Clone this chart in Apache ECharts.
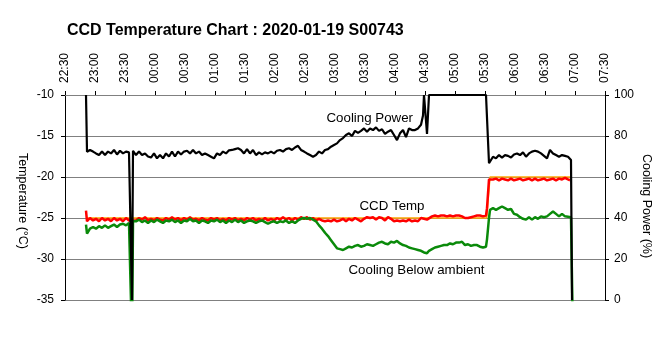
<!DOCTYPE html>
<html>
<head>
<meta charset="utf-8">
<script src="https://cdn.jsdelivr.net/npm/echarts@6/dist/echarts.min.js"></script>
<style>
  html, body { margin: 0; padding: 0; background: #fff; }
  #chart { width: 670px; height: 340px; }
</style>
</head>
<body>
<div id="chart"></div>
<script>
// Sample times in minutes after 22:30 (2020-01-18 22:30 -> 2020-01-19 07:30)
const minutes = [
  21, 22, 25, 28, 31, 34, 37, 40, 43, 46, 49, 52, 55, 58, 61, 64, 66, 67, 68,
  71, 74, 77, 80, 83, 86, 89, 92, 95, 98,
  101, 104, 107, 110, 113, 116, 119, 122, 125, 128,
  131, 134, 137, 140, 143, 146, 149, 152, 155, 158,
  161, 164, 167, 170, 173, 176, 179, 182, 185, 188,
  191, 194, 197, 200, 203, 206, 209, 212, 215, 218,
  221, 224, 227, 230, 233, 236, 239, 242, 245, 248,
  251, 254, 257, 260, 263, 266, 269, 272, 275, 278,
  281, 284, 287, 290, 293, 296, 299, 302, 305, 308,
  311, 314, 317, 320, 323, 326, 329, 332, 335, 338,
  341, 344, 347, 350, 353, 356,
  358, 359, 360, 362, 364,
  367, 370, 373, 376, 379, 382, 385, 388, 391, 394, 397, 400, 403, 406, 409, 412, 415, 418, 421,
  422, 424, 425,
  428, 431, 434, 437, 440, 443, 446, 449, 452, 455, 458, 461, 464,
  467, 470, 473, 476, 479, 482, 485, 488, 491, 494, 497, 500, 503,
  505, 506, 507, 508
];

// Cooling power, % (right axis)
const coolingPower = [
  100, 72.3, 73.2, 72.4, 71.5, 70.7, 72.4, 70.7, 72.4, 71.5, 73.2, 71.0, 72.8, 71.5, 72.4, 72.0, 72.4, 0, 72.8,
  70.7, 72.4, 70.7, 71.5, 70.0, 69.5, 71.5, 69.1, 70.7, 69.1,
  71.5, 70.0, 72.4, 70.0, 72.4, 71.0, 72.4, 72.8, 71.5, 73.2,
  71.5, 72.4, 70.7, 71.5, 70.7, 69.9, 69.1, 71.5, 70.7, 72.4,
  71.5, 73.0, 73.2, 73.6, 74.0, 73.2, 71.5, 73.6, 71.5, 73.2,
  70.7, 72.0, 71.0, 72.0, 71.5, 72.4, 71.5, 72.8, 73.2, 72.4,
  73.6, 74.0, 73.2, 74.4, 75.2, 73.2, 72.4, 71.5, 70.7, 69.9,
  70.7, 72.4, 71.5, 73.2, 73.6, 74.8, 75.6, 76.4, 78.0, 79.0,
  80.5, 81.3, 80.0, 82.5, 81.5, 82.5, 83.7, 82.1, 83.7, 82.9,
  84.2, 82.5, 83.3, 81.0, 82.1, 82.9, 80.5, 78.0, 81.3, 82.9,
  79.5, 83.7, 82.9, 82.9, 83.7, 85.5,
  90, 100, 100, 81, 100,
  100, 100, 100, 100, 100, 100, 100, 100, 100, 100, 100, 100, 100, 100, 100, 100, 100, 100, 100,
  100, 66.7, 67.5,
  69.9, 69.1, 70.7, 69.5, 70.7, 70.3, 69.5, 71.0, 71.5, 70.7, 72.0, 69.9, 71.5,
  72.4, 72.8, 72.4, 71.5, 70.3, 69.1, 73.2, 71.5, 70.7, 69.9, 70.7, 70.3, 69.9,
  69.1, 68.3, 0, null
];

// CCD temperature, °C
const ccdTemp = [
  -24.1, -25.4, -25.0, -25.3, -25.1, -25.4, -25.0, -25.3, -25.1, -25.4, -25.0, -25.3, -25.1, -25.4, -25.0, -25.3, -25.2, -25.3, -25.1,
  -25.3, -25.0, -25.2, -24.9, -25.3, -25.1, -25.3, -25.0, -25.2, -25.3,
  -25.0, -25.2, -24.9, -25.2, -25.0, -25.3, -25.0, -25.2, -24.9, -25.2,
  -25.1, -25.3, -25.0, -25.2, -25.3, -25.0, -25.2, -25.0, -25.3, -25.1,
  -25.3, -25.0, -25.2, -25.0, -25.3, -25.1, -25.3, -25.0, -25.2, -25.0,
  -25.3, -25.1, -25.3, -25.0, -25.3, -25.1, -25.3, -25.0, -25.2, -24.9,
  -25.2, -25.0, -25.3, -25.0, -25.2, -24.9, -25.1, -24.9, -25.2, -25.0,
  -25.3, -25.1, -25.3, -25.4, -25.3, -25.4, -25.2, -25.4, -25.3, -25.1,
  -25.4, -25.1, -25.3, -25.0, -25.2, -25.4, -25.1, -24.9, -25.0, -24.9,
  -25.2, -24.9, -25.0, -25.3, -24.9, -25.1, -25.4, -25.3, -25.4, -25.3,
  -25.4, -25.2, -25.4, -25.3, -25.4, -25.0,
  -25.0, -25.1, -25.1, -25.2, -25.0,
  -24.8, -24.7, -24.8, -24.7, -24.7, -24.8, -24.7, -24.8, -24.7, -24.7, -24.8, -25.0, -25.0, -24.9, -24.8, -24.7, -24.7, -24.8, -24.7,
  -23.8, -20.3, -20.2,
  -20.3, -20.2, -20.4, -20.2, -20.3, -20.4, -20.2, -20.4, -20.3, -20.2, -20.4, -20.3, -20.2,
  -20.4, -20.2, -20.4, -20.3, -20.2, -20.4, -20.3, -20.2, -20.4, -20.2, -20.3, -20.1, -20.3,
  -20.4, null, null, null
];

// Cooling below ambient, °C
const belowAmbient = [
  -25.8, -26.9, -26.3, -26.1, -26.3, -26.0, -26.2, -25.9, -26.2, -26.0, -25.8, -26.1, -25.8, -25.7, -25.9, -25.6, -25.8, -40, -25.4,
  -25.4, -25.2, -25.5, -25.3, -25.6, -25.3, -25.5, -25.2, -25.4, -25.6,
  -25.3, -25.4, -25.2, -25.5, -25.3, -25.6, -25.3, -25.4, -25.1, -25.4,
  -25.3, -25.6, -25.3, -25.4, -25.6, -25.3, -25.4, -25.2, -25.5, -25.3,
  -25.6, -25.3, -25.5, -25.2, -25.5, -25.3, -25.6, -25.4, -25.3, -25.4,
  -25.6, -25.4, -25.3, -25.5, -25.7, -25.5, -25.4, -25.6, -25.4, -25.5,
  -25.3, -25.6, -25.4, -25.6, -25.3, -25.1, -25.0, -25.1, -25.0, -25.2,
  -25.4, -25.9, -26.3, -26.8, -27.2, -27.7, -28.2, -28.7, -28.8, -28.9,
  -28.7, -28.5, -28.6, -28.4, -28.3, -28.5, -28.4, -28.2, -28.3, -28.4,
  -28.2, -28.0, -27.9, -28.1, -28.2, -27.9, -28.0, -27.8, -28.1, -28.3,
  -28.4, -28.6, -28.7, -28.8, -28.9, -29.0,
  -29.1, -29.2, -29.3, -29.3, -29.0,
  -28.8, -28.6, -28.5, -28.4, -28.3, -28.3, -28.1, -28.2, -28.0, -28.0, -27.9, -28.3, -28.2, -28.4, -28.3, -28.3, -28.5, -28.6, -28.5,
  -27.6, -25.0, -24.0,
  -23.8, -24.0, -23.8, -23.6, -23.8, -24.0, -23.9, -24.5, -24.6, -24.9, -25.1, -25.2, -24.9,
  -25.2, -24.9, -25.1, -24.8, -24.9, -24.8, -24.5, -24.2, -24.5, -24.8, -24.5, -24.8, -24.85,
  -24.9, -24.9, -25.0, -40
];

// Set point, °C (step change at 05:30)
const setPointMinutes = [21, 421.7, 425, 505];
const setPointTemp = [-25, -25, -20, -20];

// Top axis tick labels, one per 30 minutes
const tickLabels = [
  '22:30', '23:00', '23:30', '00:00', '00:30', '01:00', '01:30', '02:00', '02:30', '03:00',
  '03:30', '04:00', '04:30', '05:00', '05:30', '06:00', '06:30', '07:00', '07:30'
];

const FONT = "'Liberation Sans', Arial, sans-serif";
const pair = (xs, vals) => xs.map((m, i) => [m, vals[i] == null ? '-' : vals[i]]);

const chart = echarts.init(document.getElementById('chart'), null, { renderer: 'canvas' });

const labelStyle = { fontFamily: FONT, fontSize: 12, color: '#000' };

chart.setOption({
  animation: false,
  backgroundColor: '#fff',
  title: {
    text: 'CCD Temperature Chart : 2020-01-19 S00743',
    left: 67, top: 23, padding: 0,
    textStyle: { fontFamily: FONT, fontSize: 16, fontWeight: 'bold', color: '#000' }
  },
  grid: { left: 65, right: 65, top: 95, bottom: 40 },
  xAxis: {
    type: 'value', position: 'top',
    min: 0, max: 540, interval: 30,
    axisLine: { show: true, onZero: false, lineStyle: { color: '#808080', width: 1 } },
    axisTick: { show: true, length: 4, lineStyle: { color: '#000' } },
    axisLabel: Object.assign({
      rotate: -90, margin: 12,
      formatter: v => tickLabels[Math.round(v / 30)]
    }, labelStyle),
    splitLine: { show: false }
  },
  yAxis: [
    {
      type: 'value', position: 'left',
      min: -35, max: -10, interval: 5,
      axisLine: { show: true, onZero: false, lineStyle: { color: '#000', width: 1 } },
      axisTick: { show: true, length: 4, lineStyle: { color: '#000' } },
      axisLabel: Object.assign({ margin: 11 }, labelStyle),
      splitLine: { show: true, lineStyle: { color: '#808080', width: 1 } }
    },
    {
      type: 'value', position: 'right',
      min: 0, max: 100, interval: 20,
      axisLine: { show: true, onZero: false, lineStyle: { color: '#000', width: 1 } },
      axisTick: { show: true, length: 4, lineStyle: { color: '#000' } },
      axisLabel: Object.assign({ margin: 9 }, labelStyle),
      splitLine: { show: false }
    }
  ],
  graphic: [
    {
      type: 'text', x: 22, y: 201, rotation: -Math.PI / 2,
      style: { text: 'Temperature (°C)', fontFamily: FONT, fontSize: 12.5, fill: '#000', align: 'center', verticalAlign: 'middle' }
    },
    {
      type: 'text', x: 646.5, y: 206, rotation: -Math.PI / 2,
      style: { text: 'Cooling Power (%)', fontFamily: FONT, fontSize: 12.5, fill: '#000', align: 'center', verticalAlign: 'middle' }
    },
    {
      type: 'text', x: 326.5, y: 118,
      style: { text: 'Cooling Power', fontFamily: FONT, fontSize: 13.3, fill: '#000', align: 'left', verticalAlign: 'middle' }
    },
    {
      type: 'text', x: 359.5, y: 206.5,
      style: { text: 'CCD Temp', fontFamily: FONT, fontSize: 13.3, fill: '#000', align: 'left', verticalAlign: 'middle' }
    },
    {
      type: 'text', x: 348.5, y: 270,
      style: { text: 'Cooling Below ambient', fontFamily: FONT, fontSize: 13.3, fill: '#000', align: 'left', verticalAlign: 'middle' }
    }
  ],
  series: [
    {
      name: 'Set Point', type: 'line', yAxisIndex: 0,
      data: pair(setPointMinutes, setPointTemp),
      showSymbol: false, clip: true,
      lineStyle: { color: '#ffa500', width: 1.5 }
    },
    {
      name: 'CCD Temp', type: 'line', yAxisIndex: 0,
      data: pair(minutes, ccdTemp),
      showSymbol: false, clip: true,
      lineStyle: { color: '#ff0000', width: 2.5 }
    },
    {
      name: 'Cooling Below ambient', type: 'line', yAxisIndex: 0,
      data: pair(minutes, belowAmbient),
      showSymbol: false, clip: true,
      lineStyle: { color: '#0a8a0a', width: 2.5 }
    },
    {
      name: 'Cooling Power', type: 'line', yAxisIndex: 1,
      data: pair(minutes, coolingPower),
      showSymbol: false, clip: true,
      lineStyle: { color: '#000', width: 2.2 }
    }
  ]
});
</script>
</body>
</html>
